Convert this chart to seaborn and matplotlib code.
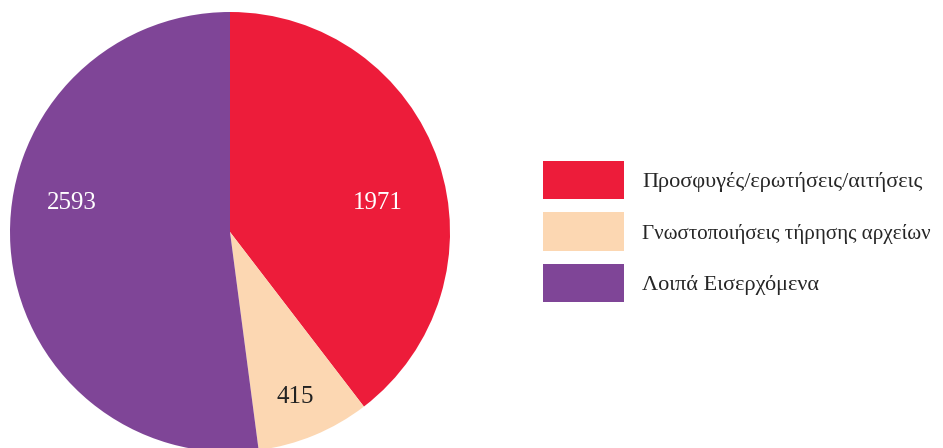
import seaborn as sns
import matplotlib.pyplot as plt
from matplotlib.patches import Patch

labels = ['Προσφυγές/ερωτήσεις/αιτήσεις', 'Γνωστοποιήσεις τήρησης αρχείων', 'Λοιπά Εισερχόμενα']
values = [1971, 415, 2593]
colors = ['#ED1C3A', '#FCD7B2', '#7F4597']
value_colors = ['white', '#222222', 'white']
# where the numbers sit, in units of the pie radius
label_x = [0.67, 0.295, -0.72]
label_y = [0.13, -0.75, 0.13]

sns.set_theme(style='white')
plt.rcParams['font.family'] = ['Liberation Serif', 'DejaVu Serif']

fig = plt.figure(figsize=(9.43, 4.48), dpi=100)
ax = fig.add_axes([10 / 943, -4 / 448, 440 / 943, 440 / 448])

palette = sns.color_palette(colors)
ax.pie(values, colors=palette, startangle=90, counterclock=False, radius=1,
       wedgeprops={'linewidth': 0})
ax.set_xlim(-1, 1)
ax.set_ylim(-1, 1)
ax.set_aspect('equal')
ax.axis('off')

for v, x, y, c in zip(values, label_x, label_y, value_colors):
    ax.text(x, y, str(v), ha='center', va='center', fontsize=18, color=c)

handles = [Patch(facecolor=c, edgecolor='none') for c in palette]
leg = fig.legend(handles, labels, loc='upper left', bbox_to_anchor=(543 / 943, 1 - 161 / 448),
                 frameon=False, fontsize=16, handlelength=3.65, handleheight=2.28,
                 labelspacing=0.59, handletextpad=0.8, borderpad=0, borderaxespad=0)
# the long middle label is a bit narrower in the original font
leg.get_texts()[1].set_fontsize(15.1)

fig.savefig('out.png', dpi=100)
